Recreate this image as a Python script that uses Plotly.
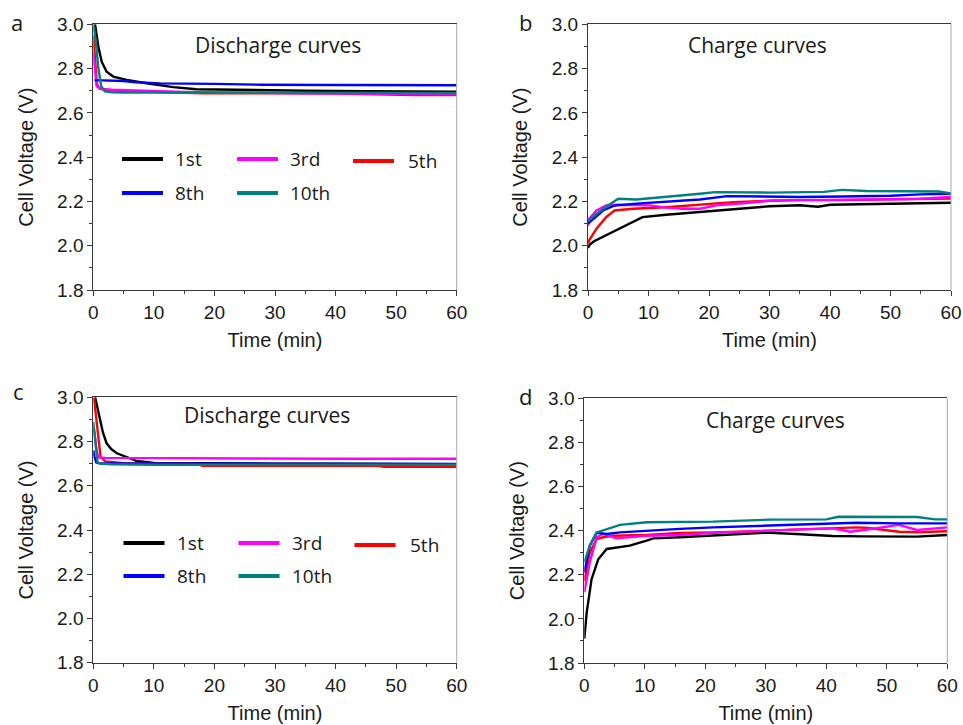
import plotly.graph_objects as go

# ---------------- data ----------------
series_names = ["1st", "3rd", "5th", "8th", "10th"]
series_colors = ["#000000", "#FF00FF", "#FF0000", "#0000FF", "#008080"]

# Panel a: discharge curves
a_t_1st = [0.28, 0.5, 0.83, 1.4, 2.2, 3.3, 5.5, 8.8, 13.2, 17, 25, 35, 45, 60]
a_v_1st = [3.0, 2.95, 2.90, 2.83, 2.786, 2.764, 2.749, 2.734, 2.716, 2.707, 2.703, 2.70, 2.698, 2.696]
a_t_3rd = [0, 0.3, 0.55, 1, 1.6, 3, 6, 10, 15, 20, 30, 40, 50, 57, 60]
a_v_3rd = [2.87, 2.79, 2.72, 2.712, 2.708, 2.705, 2.702, 2.698, 2.694, 2.692, 2.69, 2.69, 2.688, 2.686, 2.684]
a_t_5th = [0, 0.3, 0.6, 1.0, 2, 5, 11, 18, 30, 40, 53, 60]
a_v_5th = [2.95, 2.85, 2.73, 2.71, 2.703, 2.698, 2.692, 2.688, 2.688, 2.687, 2.68, 2.68]
a_t_8th = [0.2, 2, 5, 7, 11, 20, 28, 40, 50, 60]
a_v_8th = [2.748, 2.746, 2.744, 2.738, 2.733, 2.731, 2.727, 2.726, 2.726, 2.725]
a_t_10th = [0, 0.4, 0.8, 1.3, 1.9, 3, 5, 10, 20, 30, 40, 50, 60]
a_v_10th = [3.0, 2.93, 2.81, 2.72, 2.697, 2.693, 2.692, 2.692, 2.692, 2.692, 2.692, 2.69, 2.69]

# Panel b: charge curves
b_t_1st = [0, 0.3, 1, 2.5, 4.7, 7.4, 9, 12.9, 18.5, 24, 30, 35, 38, 40, 45, 50, 55, 60]
b_v_1st = [1.99, 2.005, 2.02, 2.04, 2.069, 2.107, 2.129, 2.14, 2.152, 2.167, 2.178, 2.183, 2.176, 2.185, 2.187, 2.188, 2.19, 2.194]
b_t_3rd = [0, 0.2, 1.4, 3, 4.7, 10.2, 13, 15.7, 18.5, 21.2, 26.7, 30.6, 40, 50, 55, 60]
b_v_3rd = [2.09, 2.122, 2.159, 2.182, 2.185, 2.182, 2.172, 2.167, 2.167, 2.182, 2.194, 2.205, 2.207, 2.209, 2.212, 2.22]
b_t_5th = [0, 0.2, 1.4, 3, 4.4, 7.4, 12.9, 18.5, 24, 30, 35, 42, 50, 55, 60]
b_v_5th = [2.01, 2.024, 2.077, 2.129, 2.159, 2.167, 2.174, 2.185, 2.197, 2.203, 2.206, 2.206, 2.208, 2.21, 2.213]
b_t_8th = [0, 0.3, 2.5, 4.1, 4.7, 8, 12.9, 18.5, 23, 30.6, 35, 42, 50, 55, 60]
b_v_8th = [2.10, 2.107, 2.159, 2.179, 2.182, 2.19, 2.2, 2.209, 2.224, 2.222, 2.22, 2.222, 2.226, 2.232, 2.235]
b_t_10th = [0, 0.5, 2.5, 5, 8, 13, 18.5, 21, 30, 39, 42, 46, 55, 58, 60]
b_v_10th = [2.11, 2.125, 2.167, 2.212, 2.209, 2.22, 2.235, 2.242, 2.24, 2.243, 2.252, 2.247, 2.246, 2.245, 2.236]

# Panel c: discharge curves
c_t_1st = [0.3, 0.7, 1.1, 1.6, 2.2, 3, 3.9, 5.5, 7.2, 10, 20, 30, 40, 50, 60]
c_v_1st = [3.0, 2.95, 2.898, 2.84, 2.792, 2.765, 2.747, 2.73, 2.712, 2.703, 2.70, 2.70, 2.70, 2.698, 2.697]
c_t_3rd = [0, 0.2, 0.5, 0.8, 2, 10, 17, 18, 30, 40, 50, 60]
c_v_3rd = [2.86, 2.84, 2.77, 2.728, 2.726, 2.725, 2.725, 2.722, 2.722, 2.722, 2.722, 2.722]
c_t_5th = [0.1, 0.3, 0.6, 0.9, 1.2, 2, 5, 10, 17, 18, 30, 40, 47, 48, 60]
c_v_5th = [3.0, 2.95, 2.86, 2.78, 2.73, 2.71, 2.702, 2.70, 2.70, 2.69, 2.69, 2.69, 2.69, 2.686, 2.686]
c_t_8th = [0, 0.2, 0.5, 1, 5, 20, 30, 40, 50, 53, 60]
c_v_8th = [2.76, 2.73, 2.705, 2.702, 2.701, 2.701, 2.70, 2.70, 2.70, 2.702, 2.699]
c_t_10th = [0, 0.2, 0.4, 0.7, 1.2, 3, 10, 20, 30, 40, 50, 60]
c_v_10th = [2.89, 2.84, 2.76, 2.705, 2.70, 2.697, 2.695, 2.695, 2.695, 2.695, 2.695, 2.695]

# Panel d: charge curves
d_t_1st = [0, 0.4, 1.2, 2.3, 3.7, 5.9, 7.5, 10.3, 11.4, 15.8, 21.3, 26.8, 30, 35, 41, 46, 52, 55, 60]
d_v_1st = [1.91, 2.03, 2.18, 2.27, 2.317, 2.325, 2.332, 2.355, 2.365, 2.37, 2.377, 2.385, 2.391, 2.385, 2.376, 2.374, 2.373, 2.373, 2.38]
d_t_3rd = [0, 0.9, 2.05, 3.1, 5.3, 7.5, 10.3, 15.8, 21.3, 30.7, 35, 41, 44, 48, 52, 55, 60]
d_v_3rd = [2.12, 2.256, 2.37, 2.385, 2.365, 2.37, 2.377, 2.38, 2.39, 2.40, 2.406, 2.41, 2.395, 2.41, 2.426, 2.403, 2.415]
d_t_5th = [0, 0.9, 2.05, 3.1, 4.8, 10.3, 15.8, 21.3, 30.7, 40, 45, 47, 52, 55, 60]
d_v_5th = [2.17, 2.30, 2.362, 2.37, 2.377, 2.38, 2.39, 2.392, 2.40, 2.41, 2.415, 2.412, 2.395, 2.393, 2.397]
d_t_8th = [0, 0.9, 2.05, 3.7, 5.9, 10.3, 15.8, 21.3, 30.7, 40, 45, 52, 60]
d_v_8th = [2.21, 2.332, 2.39, 2.385, 2.392, 2.40, 2.408, 2.415, 2.423, 2.43, 2.436, 2.433, 2.433]
d_t_10th = [0, 0.9, 2.05, 3.7, 5.9, 10.3, 15.8, 21.3, 30.7, 40, 42, 50, 55, 58, 60]
d_v_10th = [2.256, 2.332, 2.392, 2.408, 2.426, 2.438, 2.438, 2.441, 2.45, 2.451, 2.463, 2.463, 2.462, 2.451, 2.451]

panel_labels = ["a", "b", "c", "d"]
panel_titles = ["Discharge curves", "Charge curves", "Discharge curves", "Charge curves"]
x_title = "Time (min)"
y_title = "Cell Voltage (V)"
x_range = [0, 60]
y_range = [1.8, 3.0]

panels_data = [
    [(a_t_1st, a_v_1st), (a_t_3rd, a_v_3rd), (a_t_5th, a_v_5th), (a_t_8th, a_v_8th), (a_t_10th, a_v_10th)],
    [(b_t_1st, b_v_1st), (b_t_3rd, b_v_3rd), (b_t_5th, b_v_5th), (b_t_8th, b_v_8th), (b_t_10th, b_v_10th)],
    [(c_t_1st, c_v_1st), (c_t_3rd, c_v_3rd), (c_t_5th, c_v_5th), (c_t_8th, c_v_8th), (c_t_10th, c_v_10th)],
    [(d_t_1st, d_v_1st), (d_t_3rd, d_v_3rd), (d_t_5th, d_v_5th), (d_t_8th, d_v_8th), (d_t_10th, d_v_10th)],
]

# ---------------- layout helpers ----------------
W, H = 963, 725
def px(x):
    return x / W
def py(y):
    return 1 - y / H

# plot-area pixel boxes: (left, right, top, bottom)
boxes = [
    (93.3, 456.7, 24.3, 290.0),
    (588.0, 951.0, 24.3, 290.0),
    (93.3, 456.7, 397.3, 662.7),
    (584.3, 947.3, 398.3, 663.0),
]
title_pos = [(278, 45), (757, 45), (267, 415), (775, 420)]
label_pos = [(17, 22), (525, 22), (18, 391), (525, 396)]

# drawing order: 1st, 5th, 3rd, 8th, 10th
draw_order = [0, 2, 1, 3, 4]

fig = go.Figure()
AX_COLOR = "#3a3a3a"
TICK_FONT = dict(family="Liberation Sans, Arial, sans-serif", size=19, color="#1a1a1a")
TITLE_FONT = dict(family="Liberation Sans, Arial, sans-serif", size=20, color="#1a1a1a")
TEXT_FAMILY = "Open Sans, sans-serif"

layout = {}
shapes = []
annotations = []
for p in range(4):
    xa = "xaxis" if p == 0 else f"xaxis{p+1}"
    ya = "yaxis" if p == 0 else f"yaxis{p+1}"
    xr = "x" if p == 0 else f"x{p+1}"
    yr = "y" if p == 0 else f"y{p+1}"
    L, R, T, B = boxes[p]
    layout[xa] = dict(
        domain=[px(L), px(R)], range=x_range, anchor=yr, automargin=False,
        dtick=10, tick0=0, ticks="outside", ticklen=5, tickwidth=1, tickcolor=AX_COLOR,
        minor=dict(dtick=5, ticks="outside", ticklen=3, tickcolor=AX_COLOR, showgrid=False),
        showline=True, linecolor=AX_COLOR, linewidth=1, mirror=True,
        showgrid=False, zeroline=False, tickfont=TICK_FONT,
        title=dict(text=x_title, font=TITLE_FONT, standoff=11),
        fixedrange=True,
    )
    layout[ya] = dict(
        domain=[py(B), py(T)], range=y_range, anchor=xr, automargin=False,
        dtick=0.2, tick0=1.8, tickformat=".1f", ticks="outside", ticklen=5, tickwidth=1, tickcolor=AX_COLOR,
        minor=dict(dtick=0.1, ticks="outside", ticklen=3, tickcolor=AX_COLOR, showgrid=False),
        showline=True, linecolor=AX_COLOR, linewidth=1,
        showgrid=False, zeroline=False, tickfont=TICK_FONT,
        title=dict(text=y_title, font=TITLE_FONT, standoff=18),
        fixedrange=True,
    )
    # lighter right frame edge
    shapes.append(dict(type="line", xref="paper", yref="paper",
                       x0=px(R), x1=px(R), y0=py(B), y1=py(T),
                       line=dict(color="#a8a8a8", width=1)))
    for i in draw_order:
        t, v = panels_data[p][i]
        fig.add_trace(go.Scatter(
            x=t, y=v, mode="lines", name=series_names[i],
            line=dict(color=series_colors[i], width=2.4),
            xaxis=xr, yaxis=yr, showlegend=False,
        ))
    tx, ty = title_pos[p]
    annotations.append(dict(text=panel_titles[p], xref="paper", yref="paper",
                            x=px(tx), y=py(ty), xanchor="center", yanchor="middle",
                            showarrow=False,
                            font=dict(family=TEXT_FAMILY, size=21, color="#1a1a1a")))
    lx, ly = label_pos[p]
    annotations.append(dict(text=panel_labels[p], xref="paper", yref="paper",
                            x=px(lx), y=py(ly), xanchor="center", yanchor="middle",
                            showarrow=False,
                            font=dict(family=TEXT_FAMILY, size=22, color="#1a1a1a")))

# manual legends in panels a and c (pixel layout)
legend_rows = {0: (159, 193), 2: (543, 576)}
legend_cols = [(122, 163, 173), (237, 278, 288), (353, 394, 406)]
legend_slots = [(0, 0), (0, 1), (0, 2), (1, 0), (1, 1)]  # (row, col) for 1st,3rd,5th,8th,10th
for p, rows in legend_rows.items():
    dx = 0 if p == 0 else 1.5
    for i, (r, c) in enumerate(legend_slots):
        yy = rows[r] + (2 if (r == 0 and c == 2) else 0)
        x0, x1, xt = legend_cols[c]
        shapes.append(dict(type="line", xref="paper", yref="paper",
                           x0=px(x0 + dx), x1=px(x1 + dx), y0=py(yy), y1=py(yy),
                           line=dict(color=series_colors[i], width=4)))
        annotations.append(dict(text=series_names[i], xref="paper", yref="paper",
                                x=px(xt + dx), y=py(yy), xanchor="left", yanchor="middle",
                                showarrow=False,
                                font=dict(family=TEXT_FAMILY, size=19, color="#1a1a1a")))

fig.update_layout(
    width=W, height=H, margin=dict(l=0, r=0, t=0, b=0),
    paper_bgcolor="white", plot_bgcolor="white",
    shapes=shapes, annotations=annotations, showlegend=False,
    **layout,
)

fig.write_html(
    "out.html",
    config={"displayModeBar": False},
    post_script="document.body.style.margin='0';document.body.style.padding='0';document.body.style.overflow='hidden';",
)
